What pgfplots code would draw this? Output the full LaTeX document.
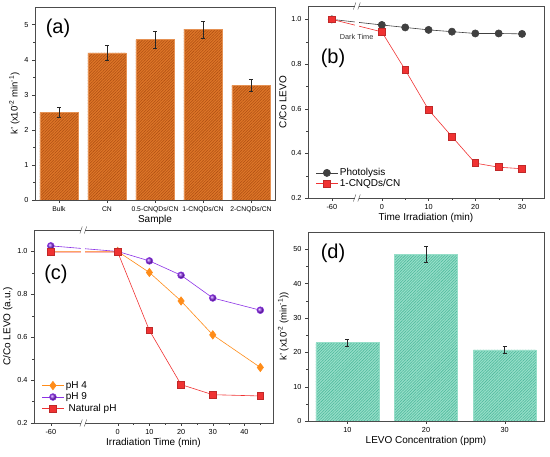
\documentclass[border=0pt]{standalone}
\usepackage{fontspec}
\setmainfont{Liberation Sans}
\usepackage{pgfplots}
\pgfplotsset{compat=1.18}
\usetikzlibrary{patterns.meta}
\definecolor{orbar}{RGB}{222,118,40}
\definecolor{orline}{RGB}{175,80,20}
\definecolor{tealbar}{RGB}{150,222,200}
\definecolor{tealline}{RGB}{75,185,155}
\definecolor{phgray}{RGB}{64,64,64}
\definecolor{myred}{RGB}{240,50,50}
\definecolor{myorange}{RGB}{255,140,25}
\definecolor{mypurple}{RGB}{140,50,230}
\pgfplotsset{
  every axis/.append style={
    scale only axis, anchor=south west,
    tick align=outside, tick pos=left,
    axis line style={black!70},
    tick style={black!75},
    major tick length=3pt, minor tick length=1.8pt,
    tick label style={font=\fontsize{7.3}{8}\selectfont},
    label style={font=\fontsize{10}{11}\selectfont},
    /pgf/number format/assume math mode=true,
  },
  mylegend/.style={
    legend cell align=left,
    legend style={draw=none, fill=none, font=\fontsize{10}{11}\selectfont, row sep=-2pt},
    legend image code/.code={
      \draw[##1] (0cm,0cm) -- (0.75cm,0cm);
      \draw[##1, only marks] plot coordinates {(0.375cm,0cm)};
    },
  },
  errs/.style={draw=none, mark=none, forget plot,
    error bars/.cd, y dir=both, y explicit,
    error bar style={draw=black!85, solid, line width=0.6pt},
    error mark options={rotate=90, mark size=2pt, draw=black!85, line width=0.6pt}},
}
\newcommand{\brk}[3]{% axis x, ymin, ymax
  \fill[white] ([xshift=-2.2pt,yshift=-1pt]axis cs:#1,#2) rectangle ([xshift=2.2pt,yshift=1pt]axis cs:#1,#3);
  \draw[black!70] ([xshift=-3.4pt,yshift=-3.5pt]axis cs:#1,#2) -- ([xshift=-1pt,yshift=3.5pt]axis cs:#1,#2);
  \draw[black!70] ([xshift=1pt,yshift=-3.5pt]axis cs:#1,#2) -- ([xshift=3.4pt,yshift=3.5pt]axis cs:#1,#2);
  \draw[black!70] ([xshift=-3.4pt,yshift=-3.5pt]axis cs:#1,#3) -- ([xshift=-1pt,yshift=3.5pt]axis cs:#1,#3);
  \draw[black!70] ([xshift=1pt,yshift=-3.5pt]axis cs:#1,#3) -- ([xshift=3.4pt,yshift=3.5pt]axis cs:#1,#3);
}
\begin{document}
\begin{tikzpicture}
\path[use as bounding box] (0,0) rectangle (550pt,457pt);
% (a)
\begin{axis}[at={(35pt,257pt)}, width=240pt, height=193pt,
  xmin=-0.5, xmax=4.5, ymin=0, ymax=5.5,
  ytick={0,1,2,3,4,5}, minor y tick num=1,
  xtick={0,1,2,3,4}, xticklabels={Bulk,CN,0.5-CNQDs/CN,1-CNQDs/CN,2-CNQDs/CN},
  xticklabel style={font=\fontsize{6.8}{7}\selectfont},
  xlabel={Sample}, ylabel={k' (x10\textsuperscript{-2} min\textsuperscript{-1})},
  ylabel style={font=\fontsize{9.5}{10}\selectfont},
  xlabel style={yshift=4pt}, ylabel style={yshift=-2pt}]
\addplot[ybar, bar width=0.8, fill=orbar, draw=orbar!80!white,
  postaction={pattern={Lines[angle=45,distance=2pt,line width=0.55pt]}, pattern color=orline}]
  coordinates {(0,2.50) (1,4.19) (2,4.57) (3,4.86) (4,3.27)};
\addplot[errs]
  coordinates {(0,2.50) +- (0,0.13) (1,4.19) +- (0,0.21) (2,4.57) +- (0,0.24) (3,4.86) +- (0,0.24) (4,3.27) +- (0,0.16)};
\node[font=\fontsize{20}{21}\selectfont] at (rel axis cs:0.096,0.89) {(a)};
\end{axis}
% (b)
\begin{axis}[at={(308pt,259pt)}, width=236pt, height=192pt, mylegend,
  clip=false,
  xmin=-15.8, xmax=34.7, ymin=0.2, ymax=1.06,
  xtick={-10.7,0,10,20,30}, xticklabels={-60,0,10,20,30}, minor xtick={5,15,25},
  ytick={0.2,0.4,0.6,0.8,1.0}, minor ytick={0.3,0.5,0.7,0.9},
  yticklabel style={/pgf/number format/.cd, fixed, fixed zerofill, precision=1},
  xlabel={Time Irradiation (min)}, ylabel={C/Co LEVO},
  xlabel style={yshift=3pt}, ylabel style={yshift=-2pt},
  legend style={at={(0.02,0.03)}, anchor=south west}]
\addplot[phgray, line width=0.6pt, mark=*, mark size=3.6pt]
  coordinates {(-10.7,1.0) (0,0.975) (5,0.964) (10,0.953) (15,0.945) (20,0.937) (25,0.937) (30,0.935)};
\addplot[myred, line width=0.6pt, mark=square*, mark size=3.4pt, mark options={fill=myred, draw=myred!80!black}]
  coordinates {(-10.7,1.0) (0,0.944) (5,0.774) (10,0.595) (15,0.475) (20,0.356) (25,0.338) (30,0.331)};
\legend{Photolysis,1-CNQDs/CN}
\brk{-5.35}{0.2}{1.06}
\node[font=\fontsize{7.3}{8}\selectfont, black!80] at (rel axis cs:0.206,0.837) {Dark Time};
\node[font=\fontsize{20}{21}\selectfont] at (rel axis cs:0.106,0.73) {(b)};
\end{axis}
% (c)
\begin{axis}[at={(34pt,34pt)}, width=239pt, height=193pt, mylegend,
  clip=false,
  xmin=-26.4, xmax=49, ymin=0.2, ymax=1.1,
  xtick={-21.1,0,10,20,30,40}, xticklabels={-60,0,10,20,30,40}, minor xtick={5,15,25,35,45},
  ytick={0.2,0.4,0.6,0.8,1.0}, minor ytick={0.3,0.5,0.7,0.9},
  yticklabel style={/pgf/number format/.cd, fixed, fixed zerofill, precision=1},
  xlabel={Irradiation Time (min)}, ylabel={C/Co LEVO (a.u.)},
  xlabel style={yshift=3pt}, ylabel style={yshift=-2pt},
  legend style={at={(0.02,0.03)}, anchor=south west, row sep=-1pt}]
\addplot[myorange, line width=0.6pt, mark=diamond*, mark size=4.2pt]
  coordinates {(-21.1,1.0) (0,1.0) (10,0.902) (20,0.769) (30,0.611) (45,0.459)};
\addplot[mypurple, line width=0.6pt, mark=ball, mark size=3.4pt, mark options={ball color=mypurple}]
  coordinates {(-21.1,1.026) (0,1.0) (10,0.956) (20,0.889) (30,0.783) (45,0.726)};
\addplot[myred, line width=0.6pt, mark=square*, mark size=3.4pt, mark options={fill=myred, draw=myred!80!black}]
  coordinates {(-21.1,0.997) (0,0.997) (10,0.632) (20,0.379) (30,0.332) (45,0.326)};
\legend{pH 4,pH 9,\ Natural pH}
\brk{-10.85}{0.2}{1.1}
\node[font=\fontsize{20}{21}\selectfont] at (rel axis cs:0.092,0.768) {(c)};
\end{axis}
% (d)
\begin{axis}[at={(308pt,36pt)}, width=236pt, height=189pt,
  xmin=0.5, xmax=3.5, ymin=0, ymax=55,
  xtick={1,2,3}, xticklabels={10,20,30},
  ytick={0,10,20,30,40,50}, minor y tick num=1,
  xlabel={LEVO Concentration (ppm)}, ylabel={k' (x10\textsuperscript{-2} (min\textsuperscript{-1}))},
  ylabel style={font=\fontsize{9.5}{10}\selectfont},
  xlabel style={yshift=3pt}, ylabel style={yshift=-2pt}]
\addplot[ybar, bar width=0.8, fill=tealbar, draw=tealbar,
  postaction={pattern={Lines[angle=45,distance=2pt,line width=0.55pt]}, pattern color=tealline}]
  coordinates {(1,22.8) (2,48.5) (3,20.7)};
\addplot[errs]
  coordinates {(1,22.8) +- (0,1.1) (2,48.5) +- (0,2.4) (3,20.7) +- (0,1.0)};
\node[font=\fontsize{20}{21}\selectfont] at (rel axis cs:0.106,0.889) {(d)};
\end{axis}
\end{tikzpicture}
\end{document}
